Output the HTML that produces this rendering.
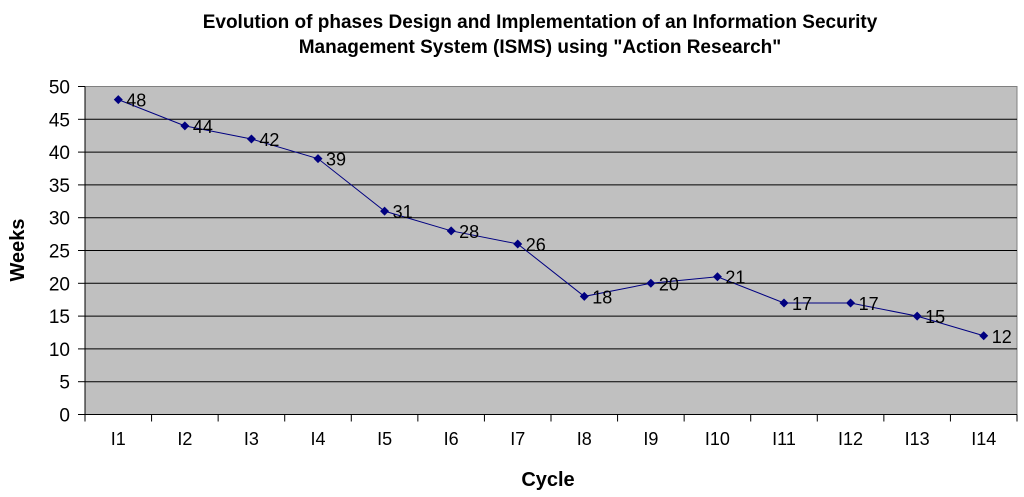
<!DOCTYPE html>
<html><head><meta charset="utf-8"><style>
body{margin:0;background:#fff;}
svg{display:block;font-family:"Liberation Sans",Arial,sans-serif;}
</style></head><body>
<svg id="chart" width="1024" height="497">
<text x="540" y="28" text-anchor="middle" font-size="19" font-weight="bold">Evolution of phases Design and Implementation of an Information Security</text>
<text x="540" y="53" text-anchor="middle" font-size="19" font-weight="bold">Management System (ISMS) using "Action Research"</text>
<text x="548" y="486" text-anchor="middle" font-size="20" font-weight="bold">Cycle</text>
<text transform="translate(24,250) rotate(-90)" text-anchor="middle" font-size="20" font-weight="bold">Weeks</text>
<g id="plot"></g>
</svg>
<script>
const categories=["I1","I2","I3","I4","I5","I6","I7","I8","I9","I10","I11","I12","I13","I14"];
const weeks=[48,44,42,39,31,28,26,18,20,21,17,17,15,12];
const yTicks=[0,5,10,15,20,25,30,35,40,45,50];
const L=85,R=1017,T=86.5,B=414.5,yMax=50;
const bw=(R-L)/categories.length;
const xs=i=>L+bw*(i+0.5);
const ys=v=>B-(v/yMax)*(B-T);
const ns="http://www.w3.org/2000/svg";
const g=document.getElementById('plot');
function mk(t,a,p){const e=document.createElementNS(ns,t);for(const k in a)e.setAttribute(k,a[k]);(p||g).appendChild(e);return e;}
const bg=mk('rect',{x:L,y:T,width:R-L,height:B-T,fill:'#c0c0c0',stroke:'#808080','stroke-width':1});


yTicks.forEach(v=>{
  const y=ys(v);
  if(v>0&&v<yMax){const gl=mk('line',{x1:L,x2:R,y1:y,y2:y,stroke:'#000','stroke-width':1});
  
  }
  mk('line',{x1:L-7,x2:L,y1:y,y2:y,stroke:'#000'});
  const t=mk('text',{x:L-15,y:y+7,'text-anchor':'end','font-size':19});t.textContent=v;
  
  
});
mk('line',{x1:L,x2:L,y1:T,y2:B,stroke:'#000'});
mk('line',{x1:L,x2:R,y1:B,y2:B,stroke:'#000'});
categories.forEach((c,i)=>{
  const x0=L+bw*i;
  mk('line',{x1:x0,x2:x0,y1:B,y2:B+7,stroke:'#000'});
  const t=mk('text',{x:xs(i),y:445,'text-anchor':'middle','font-size':18});t.textContent=c;
  
  
});
mk('line',{x1:R,x2:R,y1:B,y2:B+7,stroke:'#000'});
const pl=mk('polyline',{points:weeks.map((v,i)=>xs(i)+','+ys(v)).join(' '),fill:'none',stroke:'#000080','stroke-width':1});


weeks.forEach((v,i)=>{
  const x=xs(i),y=ys(v);
  const m=mk('polygon',{points:`${x},${y-4.5} ${x+4.5},${y} ${x},${y+4.5} ${x-4.5},${y}`,fill:'#000080'});
  
  
  const t=mk('text',{x:x+8,y:y+7,'font-size':18});t.textContent=v;
  
  
});
</script>
</body></html>
